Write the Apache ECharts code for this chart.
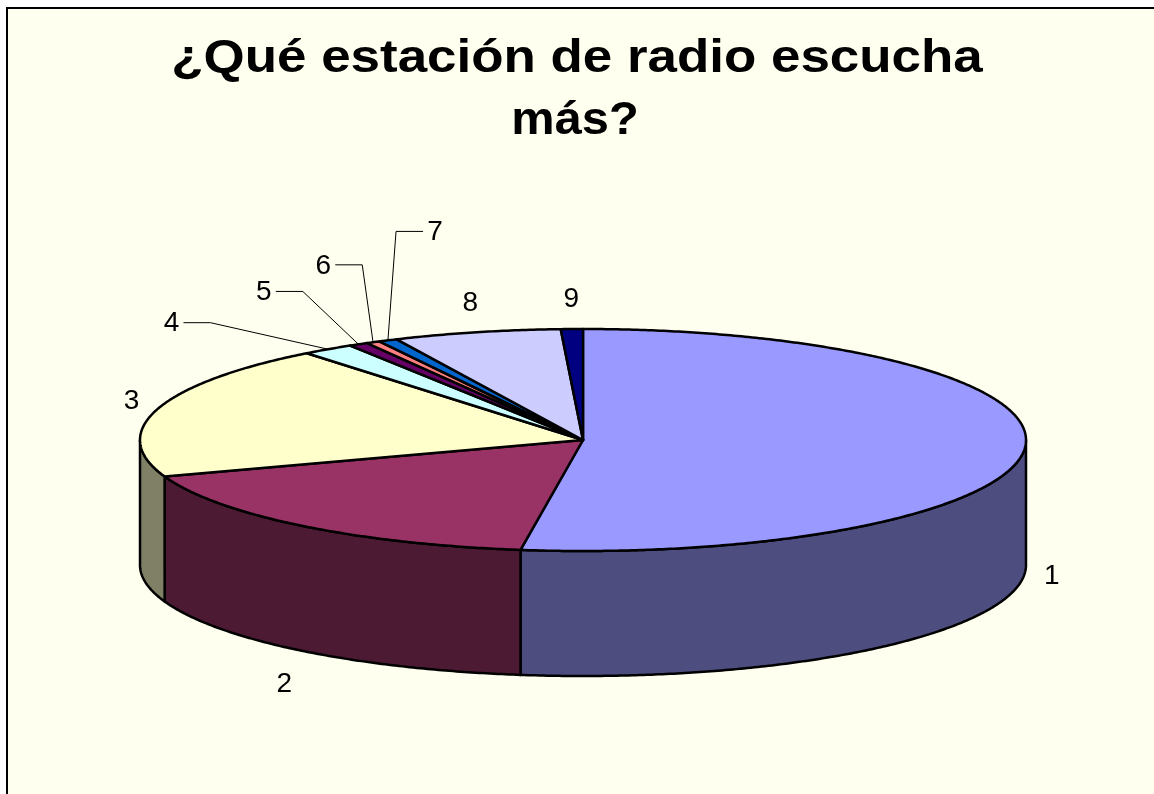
<!DOCTYPE html>
<html>
<head>
<meta charset="utf-8">
<script src="https://cdn.jsdelivr.net/npm/echarts/dist/echarts.min.js"></script>
<style>
  html, body { margin: 0; padding: 0; background: #fff; }
  #main { width: 1154px; height: 794px; }
</style>
</head>
<body>
<div id="main"></div>
<script>
// data
var categories = ['1', '2', '3', '4', '5', '6', '7', '8', '9'];
var values = [52.2, 17.4, 19.6, 1.9, 0.7, 0.5, 0.7, 6.1, 0.8];
var titleLines = ['¿Qué estación de radio escucha', 'más?'];

// excel 97 palette
var topColors = ['#9999FF', '#993366', '#FFFFCC', '#CCFFFF', '#660066', '#FF8080', '#0066CC', '#CCCCFF', '#000080'];

// pie geometry (px)
var cx = 583, cy = 440, rx = 443, ry = 111, depth = 125;
var labelFont = '28px "Liberation Sans", Arial, sans-serif';
var titleFont = 'bold 46px "Liberation Sans", Arial, sans-serif';
// small slices get pushed out with a leader line
var labelShift = { 3: [-141, -1], 4: [-81, -26], 5: [-37, -50], 6: [59, -81] };

function darker(c) {
    var n = parseInt(c.slice(1), 16);
    var r = (n >> 16) & 255, g = (n >> 8) & 255, b = n & 255;
    return 'rgb(' + Math.round(r / 2) + ',' + Math.round(g / 2) + ',' + Math.round(b / 2) + ')';
}

var total = values.reduce(function (s, v) { return s + v; }, 0);
var starts = [], ends = [];
var acc = 0;
values.forEach(function (v) {
    starts.push(acc / total * 360);
    acc += v;
    ends.push(acc / total * 360);
});

// angle in degrees, clockwise from 12 o'clock
function rim(deg, dy) {
    var t = deg * Math.PI / 180;
    return [cx + rx * Math.sin(t), cy - ry * Math.cos(t) + (dy || 0)];
}
function arc(a, b, dy) {
    var pts = [];
    var n = Math.max(2, Math.ceil(Math.abs(b - a) / 0.5));
    for (var k = 0; k <= n; k++) pts.push(rim(a + (b - a) * k / n, dy));
    return pts;
}

function renderSlice(params, api) {
    var i = params.dataIndex;
    var a = starts[i], b = ends[i];
    var children = [];
    var edge = { stroke: '#000', lineWidth: 2.5, lineJoin: 'round' };

    // front wall
    var lo = Math.max(a, 90), hi = Math.min(b, 270);
    if (lo < hi) {
        var wall = arc(lo, hi, 0).concat(arc(hi, lo, depth));
        children.push({
            type: 'polygon', z2: 1,
            shape: { points: wall },
            style: Object.assign({ fill: darker(topColors[i]) }, edge)
        });
    }
    // top face
    children.push({
        type: 'polygon', z2: 2,
        shape: { points: [[cx, cy]].concat(arc(a, b, 0)) },
        style: Object.assign({ fill: topColors[i] }, edge)
    });

    // label
    var m = (a + b) / 2;
    var t = m * Math.PI / 180;
    var front = Math.cos(t) < 0;
    var lx = cx + (rx + 27) * Math.sin(t);
    var ly = cy - (ry + (front ? 43 : 30)) * Math.cos(t) + (front ? depth : 0);
    var sh = labelShift[i];
    if (sh) {
        lx += sh[0];
        ly += sh[1];
        var p = rim(m, 0);
        var side = lx < p[0] ? 1 : -1;
        var x0 = lx + side * 12;
        children.push({
            type: 'polyline', z2: 3,
            shape: { points: [[x0, ly - 1], [x0 + side * 27, ly - 1], p] },
            style: { stroke: '#000', lineWidth: 1, fill: null }
        });
    }
    children.push({
        type: 'text', z2: 4,
        x: lx, y: ly,
        style: { text: categories[i], font: labelFont, fill: '#000', align: 'center', verticalAlign: 'middle' }
    });

    return { type: 'group', children: children };
}

var chart = echarts.init(document.getElementById('main'));
chart.setOption({
    backgroundColor: '#fff',
    animation: false,
    graphic: [
        {
            type: 'rect', z: -10,
            shape: { x: 7, y: 8, width: 1160, height: 800 },
            style: { fill: '#FFFFF0', stroke: '#000', lineWidth: 2 }
        },
        {
            type: 'text', x: 577, y: 59, scaleX: 1.15,
            style: { text: titleLines[0], font: titleFont, fill: '#000', align: 'center', verticalAlign: 'middle' }
        },
        {
            type: 'text', x: 575, y: 121, scaleX: 1.06,
            style: { text: titleLines[1], font: titleFont, fill: '#000', align: 'center', verticalAlign: 'middle' }
        }
    ],
    series: [{
        type: 'custom',
        coordinateSystem: 'none',
        silent: true,
        data: values,
        renderItem: renderSlice
    }]
});
</script>
</body>
</html>
